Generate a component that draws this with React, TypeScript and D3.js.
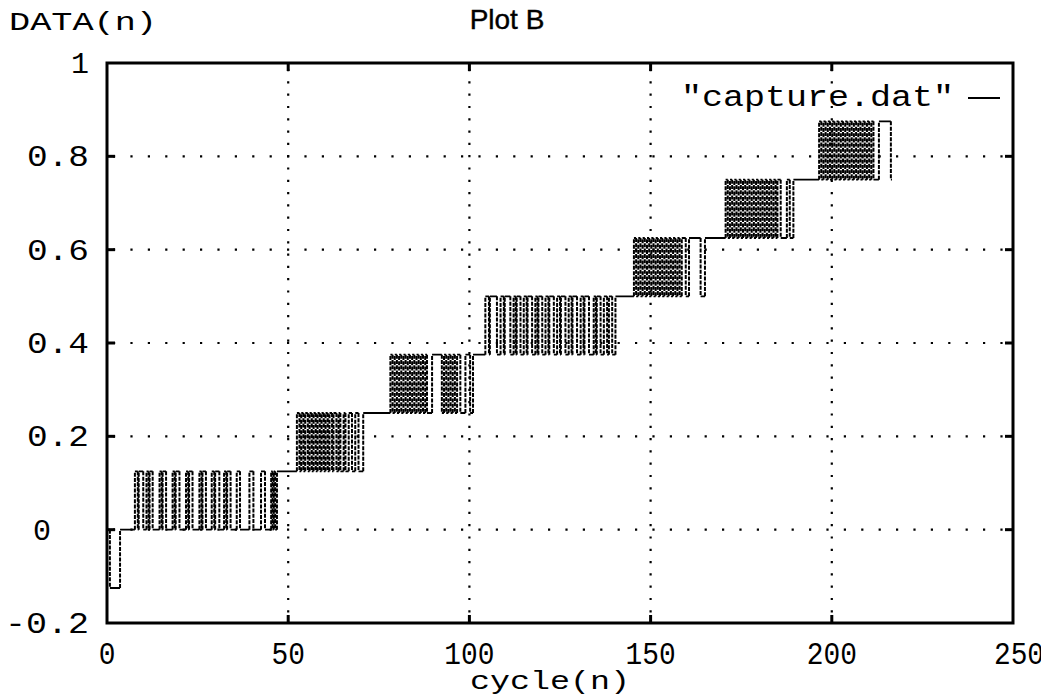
import React from "react";
import * as d3 from "d3";

// step signal: each block toggles between lo and hi at the listed cycles
const startValue = 0;
const lastCycle = 216.6;
const blockLo = [0, 0, 0.125, 0.25, 0.375, 0.5, 0.625, 0.75];
const blockHi = [-0.125, 0.125, 0.25, 0.375, 0.5, 0.625, 0.75, 0.875];
const block0 = [0.8, 3.6];
const block1 = [7.7, 8.5, 8.75, 10.0, 10.9, 11.5, 11.75, 12.6, 14.5, 15.1, 15.35, 16.3, 18.1, 18.7, 18.95, 20.0, 21.8, 22.4, 22.65, 23.6, 25.5, 26.1, 26.35, 27.3, 28.9, 29.6, 29.85, 31.0, 32.3, 32.9, 33.15, 34.1, 35.8, 36.7, 39.3, 40.4, 42.5, 43.6, 45.3, 45.7, 46.0, 46.4, 46.9];
const block2 = [52.4, 53.1, 53.6, 54.2, 54.7, 55.4, 55.9, 56.5, 57.0, 57.6, 58.1, 58.7, 59.2, 59.8, 60.3, 60.9, 61.4, 62.1, 62.5, 63.3, 63.9, 64.4, 65.3, 65.8, 66.7, 67.6, 68.5, 69.4, 70.7];
const block3 = [78.2, 78.8, 79.4, 80.0, 80.6, 81.2, 81.8, 82.4, 83.0, 83.6, 84.2, 84.8, 85.4, 86.0, 86.6, 87.2, 87.8, 88.3, 89.7, 92.4, 93.0, 93.6, 94.2, 94.8, 95.4, 96.0, 96.6, 97.5, 98.9, 100.2, 101.0];
const block4 = [104.4, 105.4, 105.65, 107.6, 108.6, 109.5, 109.75, 111.3, 112.2, 112.8, 113.05, 114.1, 115.0, 115.8, 116.05, 117.3, 118.2, 118.8, 119.05, 120.1, 121.0, 121.8, 122.05, 123.3, 124.2, 125.0, 125.25, 126.5, 127.4, 128.2, 128.45, 129.7, 130.7, 131.5, 131.75, 133.0, 134.3, 134.9, 135.15, 136.2, 137.1, 138.0, 138.5, 139.4, 140.3];
const block5 = [145.4, 146.0, 146.6, 147.2, 147.8, 148.4, 149.0, 149.6, 150.2, 150.8, 151.4, 152.0, 152.6, 153.2, 153.8, 154.4, 155.0, 155.6, 156.2, 156.8, 157.4, 158.0, 158.6, 159.7, 160.6, 163.8, 165.0];
const block6 = [170.7, 171.3, 171.9, 172.5, 173.1, 173.7, 174.3, 174.9, 175.5, 176.1, 176.7, 177.3, 177.9, 178.5, 179.1, 179.7, 180.3, 180.9, 181.5, 182.1, 182.7, 183.3, 183.9, 184.5, 185.0, 185.9, 187.6, 188.4, 189.4];
const block7 = [196.5, 197.1, 197.7, 198.3, 198.9, 199.5, 200.1, 200.7, 201.3, 201.9, 202.5, 203.1, 203.7, 204.3, 204.9, 205.5, 206.1, 206.7, 207.3, 207.9, 208.5, 209.1, 209.7, 210.3, 210.9, 211.5, 213.0, 216.3];
const blocks = [block0, block1, block2, block3, block4, block5, block6, block7];

const xTicks = [0, 50, 100, 150, 200, 250];
const yTicks = [-0.2, 0, 0.2, 0.4, 0.6, 0.8, 1];
const yTickLabels = ["-0.2", "0", "0.2", "0.4", "0.6", "0.8", "1"];
const xGrid = [50, 100, 150, 200];
const yGrid = [0, 0.2, 0.4, 0.6, 0.8];

const W = 1047;
const H = 698;
const mono = "'Liberation Mono', 'DejaVu Sans Mono', monospace";

export default function App() {
  const x = d3.scaleLinear().domain([0, 250]).range([107, 1013]);
  const y = d3.scaleLinear().domain([-0.2, 1]).range([623, 63]);

  // build transitions
  const steps: { t: number; v: number }[] = [{ t: 0, v: startValue }];
  blocks.forEach((tog, b) => {
    tog.forEach((t, i) => {
      steps.push({ t, v: i % 2 === 0 ? blockHi[b] : blockLo[b] });
    });
  });
  steps.push({ t: lastCycle, v: steps[steps.length - 1].v });

  let hPath = "";
  let vPath = "";
  for (let i = 0; i < steps.length - 1; i++) {
    const s = steps[i];
    const n = steps[i + 1];
    hPath += `M${x(s.t)},${y(s.v)}H${x(n.t)}`;
    if (i + 1 < steps.length - 1) {
      vPath += `M${x(n.t)},${y(s.v)}V${y(n.v)}`;
    }
  }

  const [x0, x1] = x.range();
  const [yb, yt] = y.range();

  return (
    <svg width={W} height={H} style={{ position: "absolute", left: 0, top: 0, background: "#fff" }}>
      <defs>
        <clipPath id="page">
          <rect x={0} y={0} width={1041} height={H} />
        </clipPath>
      </defs>
      <rect width={W} height={H} fill="#fff" />
      <text x={507} y={29} fontFamily="'Liberation Sans', Arial, sans-serif" fontSize={28} textAnchor="middle" fill="#000" stroke="#000" strokeWidth={0.4}>Plot B</text>
      <text x={9} y={30} fontFamily={mono} fontSize={26} textLength={148} lengthAdjust="spacingAndGlyphs" fill="#000">DATA(n)</text>

      {/* grid */}
      {yGrid.map((v) => (
        <line key={"gy" + v} x1={x0 + 6} x2={x1 - 4} y1={y(v)} y2={y(v)} stroke="#000" strokeWidth={2.2} strokeDasharray="2.2 15.2" />
      ))}
      {xGrid.map((v) => (
        <line key={"gx" + v} x1={x(v)} x2={x(v)} y1={yt + 6} y2={yb - 4} stroke="#000" strokeWidth={2.2} strokeDasharray="2.2 10.1" />
      ))}

      {/* data */}
      <path d={hPath} fill="none" stroke="#000" strokeWidth={1.9} />
      <path d={vPath} fill="none" stroke="#000" strokeWidth={2} strokeDasharray="4 1.3" />

      {/* legend */}
      <text x={681} y={106} fontFamily={mono} fontSize={29} textLength={273} lengthAdjust="spacingAndGlyphs" fill="#000">"capture.dat"</text>
      <line x1={968} x2={1000} y1={98} y2={98} stroke="#000" strokeWidth={2} />

      {/* frame and ticks */}
      <rect x={x0} y={yt} width={x1 - x0} height={yb - yt} fill="none" stroke="#000" strokeWidth={3} />
      {yGrid.map((v) => (
        <g key={"ty" + v}>
          <line x1={x0} x2={x0 + 8} y1={y(v)} y2={y(v)} stroke="#000" strokeWidth={3} />
          <line x1={x1 - 8} x2={x1} y1={y(v)} y2={y(v)} stroke="#000" strokeWidth={3} />
        </g>
      ))}
      {xGrid.map((v) => (
        <g key={"tx" + v}>
          <line x1={x(v)} x2={x(v)} y1={yb} y2={yb - 8} stroke="#000" strokeWidth={3} />
          <line x1={x(v)} x2={x(v)} y1={yt} y2={yt + 8} stroke="#000" strokeWidth={3} />
        </g>
      ))}

      {/* tick labels */}
      {yTicks.map((v, i) => {
        const label = yTickLabels[i];
        const right = label === "0" ? 51 : 89;
        return (
          <text key={"ly" + v} x={right} y={y(v) + 10} fontFamily={mono} fontSize={30} textAnchor="end" textLength={label.length * 22 - 4} lengthAdjust="spacingAndGlyphs" fill="#000">{label}</text>
        );
      })}
      <g clipPath="url(#page)">
        {xTicks.map((v) => (
          <text key={"lx" + v} x={x(v) + (v === 250 ? 6 : 0)} y={664} fontFamily={mono} fontSize={32} textAnchor="middle" textLength={String(v).length * 16.7} lengthAdjust="spacingAndGlyphs" fill="#000">{v}</text>
        ))}
      </g>
      <text x={550} y={689} fontFamily={mono} fontSize={26} textAnchor="middle" textLength={160} lengthAdjust="spacingAndGlyphs" fill="#000">cycle(n)</text>
    </svg>
  );
}
